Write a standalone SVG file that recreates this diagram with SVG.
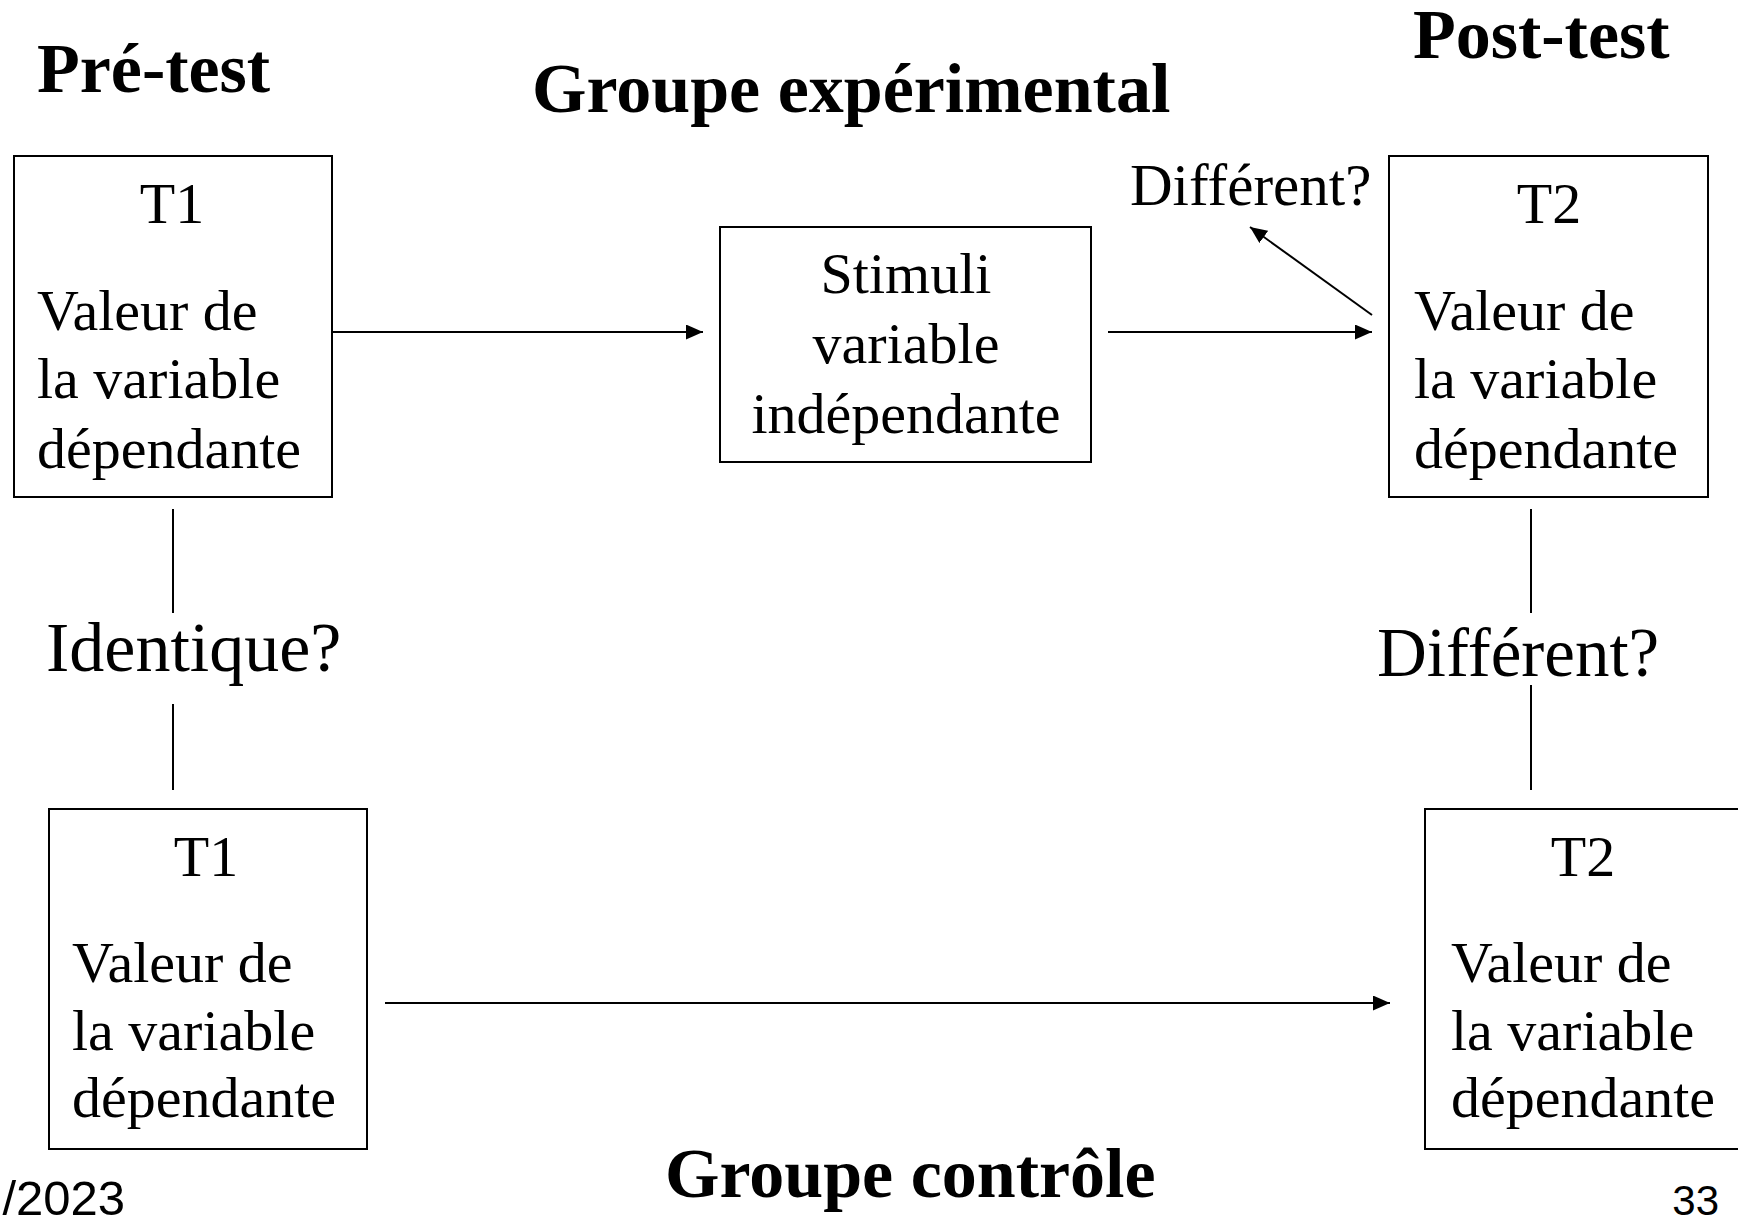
<svg xmlns="http://www.w3.org/2000/svg" width="1738" height="1217" viewBox="0 0 1738 1217">
<style>
.box{fill:#fff;stroke:#000;stroke-width:2}
.t{font-family:"Liberation Serif","Times New Roman",serif;font-size:58px;fill:#000}
.lbl{font-family:"Liberation Serif","Times New Roman",serif;fill:#000}
.h{font-family:"Liberation Serif","Times New Roman",serif;font-size:70px;font-weight:bold;fill:#000}
.f{font-family:"Liberation Sans",Arial,sans-serif;fill:#000}
.c{stroke:#000;stroke-width:2;fill:none}
.a{marker-end:url(#arr)}
</style>
<defs>
<marker id="arr" markerUnits="userSpaceOnUse" markerWidth="18" markerHeight="16" refX="17" refY="7.5" orient="auto">
<path d="M0,0 L17,7.5 L0,15 z" fill="#000"/>
</marker>
</defs>
<rect x="0" y="0" width="1738" height="1217" fill="#fff"/>

<g id="titles">
<text class="h" x="37" y="92">Pré-test</text>
<text class="h" x="532" y="112">Groupe expérimental</text>
<text class="h" x="1413" y="58">Post-test</text>
<text class="h" x="665" y="1197">Groupe contrôle</text>
</g>

<g id="connectors">
<line class="c a" x1="333" y1="332" x2="703" y2="332"/>
<line class="c a" x1="1108" y1="332" x2="1372" y2="332"/>
<line class="c a" x1="1372" y1="315" x2="1250" y2="227"/>
<line class="c a" x1="385" y1="1003" x2="1390" y2="1003"/>
<line class="c" x1="173" y1="509" x2="173" y2="613"/>
<line class="c" x1="173" y1="704" x2="173" y2="790"/>
<line class="c" x1="1531" y1="509" x2="1531" y2="613"/>
<line class="c" x1="1531" y1="685" x2="1531" y2="790"/>
</g>

<g id="pre-exp">
<rect class="box" x="14" y="156" width="318" height="341"/>
<text class="t" x="172" y="223" text-anchor="middle">T1</text>
<text class="t" x="37" y="330">Valeur de</text>
<text class="t" x="37" y="398">la variable</text>
<text class="t" x="37" y="468">dépendante</text>
</g>

<g id="stimuli">
<rect class="box" x="720" y="227" width="371" height="235"/>
<text class="t" x="906" y="293" text-anchor="middle">Stimuli</text>
<text class="t" x="906" y="363" text-anchor="middle">variable</text>
<text class="t" x="906" y="433" text-anchor="middle">indépendante</text>
</g>

<g id="post-exp">
<rect class="box" x="1389" y="156" width="319" height="341"/>
<text class="t" x="1549" y="223" text-anchor="middle">T2</text>
<text class="t" x="1414" y="330">Valeur de</text>
<text class="t" x="1414" y="398">la variable</text>
<text class="t" x="1414" y="468">dépendante</text>
</g>

<g id="label-diff-top">
<text class="lbl" x="1130" y="205" font-size="59">Différent?</text>
</g>

<g id="label-identique">
<text class="lbl" x="46" y="671" font-size="70">Identique?</text>
</g>

<g id="label-diff-mid">
<text class="lbl" x="1377" y="676" font-size="69">Différent?</text>
</g>

<g id="pre-ctrl">
<rect class="box" x="49" y="809" width="318" height="340"/>
<text class="t" x="206" y="876" text-anchor="middle">T1</text>
<text class="t" x="72" y="982">Valeur de</text>
<text class="t" x="72" y="1050">la variable</text>
<text class="t" x="72" y="1117">dépendante</text>
</g>

<g id="post-ctrl">
<rect class="box" x="1425" y="809" width="320" height="340"/>
<text class="t" x="1583" y="876" text-anchor="middle">T2</text>
<text class="t" x="1451" y="982">Valeur de</text>
<text class="t" x="1451" y="1050">la variable</text>
<text class="t" x="1451" y="1117">dépendante</text>
</g>

<g id="footer">
<text class="f" x="125" y="1215" font-size="49" text-anchor="end">/2023</text>
<text class="f" x="1719" y="1215" font-size="42" text-anchor="end">33</text>
</g>
</svg>
